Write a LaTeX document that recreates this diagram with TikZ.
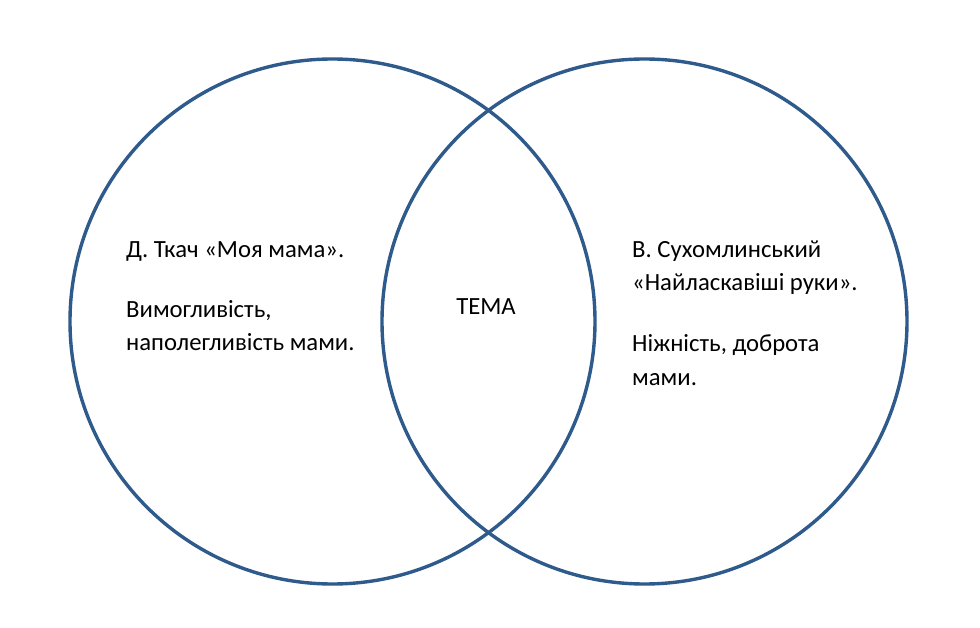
\documentclass[tikz,border=0pt]{standalone}
\usepackage{fontspec}
\setmainfont{Carlito}
\definecolor{ringblue}{HTML}{2F5A8C}
\tikzset{
  ring/.style={draw=ringblue, line width=3.4pt, circle, minimum size=525pt, inner sep=0pt},
  txt/.style={anchor=base west, inner sep=0pt, font=\fontsize{24.7}{30}\selectfont, text=black}
}
\begin{document}
\begin{tikzpicture}[x=1pt,y=-1pt]
\useasboundingbox[fill=white] (0,0) rectangle (980,628);
\node[ring] (left) at (332.5,321.5) {};
\node[ring] (right) at (644.5,321.5) {};
\node[txt] (l1) at (126,258) {Д. Ткач «Моя мама».};
\node[txt] (l2) at (126,318) {Вимогливість,};
\node[txt] (l3) at (126,351) {наполегливість мами.};
\node[txt, anchor=base] (tema) at (486,315) {ТЕМА};
\node[txt] (r1) at (632,258) {В. Сухомлинський};
\node[txt] (r2) at (632,291) {«Найласкавіші руки».};
\node[txt] (r3) at (632,352) {Ніжність, доброта};
\node[txt] (r4) at (632,385) {мами.};
\end{tikzpicture}
\end{document}
